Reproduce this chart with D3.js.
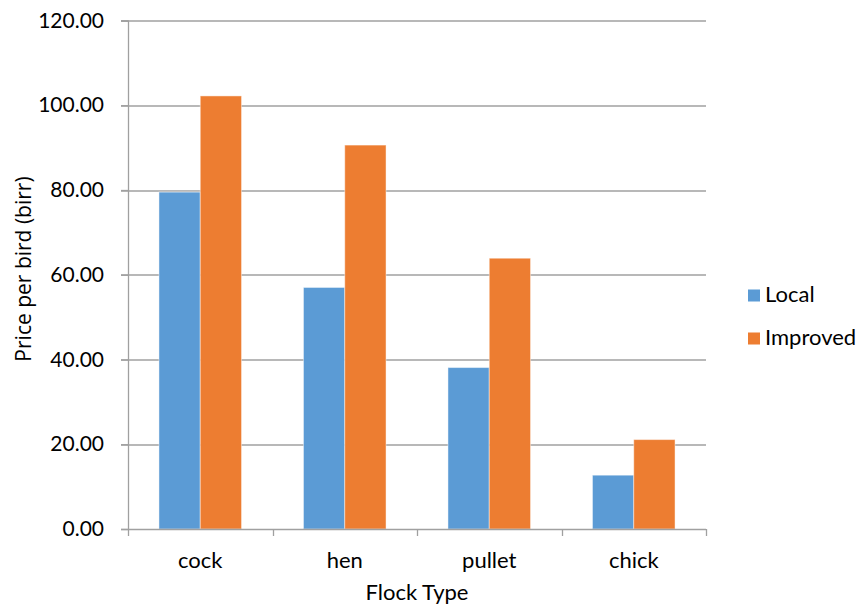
<!DOCTYPE html>
<html>
<head>
<meta charset="utf-8">
<script src="https://cdn.jsdelivr.net/npm/d3@7"></script>
<style>
  html, body { margin: 0; padding: 0; background: #fff; }
  svg text { fill: #000; }
</style>
</head>
<body>
<svg id="chart" width="859" height="612"></svg>
<script>
// Price per bird by flock type
const categories = ["cock", "hen", "pullet", "chick"];
const seriesNames = ["Local", "Improved"];
const localValues = [79.5, 57.0, 38.1, 12.7];
const improvedValues = [102.2, 90.6, 63.9, 21.1];
const yTicks = [0, 20, 40, 60, 80, 100, 120];
const colors = ["#5B9BD5", "#ED7D31"];

const seriesValues = [localValues, improvedValues];
const rows = categories.map((c, i) => ({
  category: c,
  values: seriesNames.map((s, j) => ({ series: s, value: seriesValues[j][i], idx: j }))
}));

const svg = d3.select("#chart");
const margin = { left: 128, right: 153, top: 20.5, bottom: 83 };
const W = 859, H = 612;
const plotW = W - margin.left - margin.right;
const plotH = H - margin.top - margin.bottom;

const g = svg.append("g").attr("transform", `translate(${margin.left},${margin.top})`);

const x0 = d3.scaleBand().domain(categories).range([0, plotW]).paddingInner(0).paddingOuter(0);
// two bars per group with a 150% gap between groups
const barW = x0.bandwidth() / 3.5;
const x1 = d3.scaleBand().domain(seriesNames).range([0, barW * 2]);
const y = d3.scaleLinear().domain([0, 120]).range([plotH, 0]);
const color = d3.scaleOrdinal().domain(seriesNames).range(colors);

const tickFont = "Lato, 'Noto Sans', sans-serif";

// horizontal gridlines
g.append("g")
  .selectAll("line")
  .data(yTicks.filter(t => t > 0))
  .join("line")
  .attr("x1", -7).attr("x2", plotW)
  .attr("y1", d => Math.round(y(d)) + 0.5).attr("y2", d => Math.round(y(d)) + 0.5)
  .attr("stroke", "#a0a0a0").attr("stroke-width", 1.3);

// bars
const groups = g.append("g").selectAll("g")
  .data(rows)
  .join("g")
  .attr("transform", d => `translate(${x0(d.category) + (x0.bandwidth() - barW * 2) / 2},0)`);

groups.selectAll("rect")
  .data(d => d.values)
  .join("rect")
  .attr("x", d => x1(d.series))
  .attr("width", x1.bandwidth())
  .attr("y", d => y(d.value))
  .attr("height", d => plotH - y(d.value))
  .attr("fill", d => color(d.series))
  .attr("stroke", "rgba(255,255,255,0.45)")
  .attr("stroke-width", 1);

// y axis
const yAxis = d3.axisLeft(y)
  .tickValues(yTicks)
  .tickFormat(d3.format(".2f"))
  .tickSize(7)
  .tickPadding(17);
const yg = g.append("g").call(yAxis);
yg.select(".domain").attr("stroke", "#a0a0a0").attr("stroke-width", 1.3);
yg.selectAll(".tick line").attr("stroke", "#a0a0a0").attr("stroke-width", 1.3);
yg.selectAll(".tick text")
  .attr("font-family", tickFont).attr("font-size", 21).attr("fill", "#000");

// x axis with boundary ticks between categories
const xg = g.append("g").attr("transform", `translate(0,${plotH})`);
xg.append("line")
  .attr("x1", 0).attr("x2", plotW).attr("y1", 0.5).attr("y2", 0.5)
  .attr("stroke", "#a0a0a0").attr("stroke-width", 1.3);
const boundaries = categories.map(c => x0(c)).concat([plotW]);
xg.selectAll("line.b")
  .data(boundaries)
  .join("line")
  .attr("class", "b")
  .attr("x1", d => Math.round(d) + 0.5).attr("x2", d => Math.round(d) + 0.5)
  .attr("y1", 0).attr("y2", 7)
  .attr("stroke", "#a0a0a0").attr("stroke-width", 1.3);
xg.selectAll("text.cat")
  .data(categories)
  .join("text")
  .attr("class", "cat")
  .attr("x", d => x0(d) + x0.bandwidth() / 2)
  .attr("y", 38.5)
  .attr("text-anchor", "middle")
  .attr("font-family", tickFont).attr("font-size", 22)
  .text(d => d);

// axis titles
svg.append("text")
  .attr("x", margin.left + plotW / 2)
  .attr("y", 600)
  .attr("text-anchor", "middle")
  .attr("font-family", tickFont).attr("font-size", 22)
  .text("Flock Type");

svg.append("text")
  .attr("transform", `translate(31,269) rotate(-90)`)
  .attr("text-anchor", "middle")
  .attr("font-family", "'Open Sans', 'Noto Sans', sans-serif").attr("font-size", 21)
  .text("Price per bird (birr)");

// legend
const legend = svg.append("g").attr("transform", "translate(748,289.5)");
const items = legend.selectAll("g")
  .data(seriesNames)
  .join("g")
  .attr("transform", (d, i) => `translate(0,${i * 43})`);
items.append("rect")
  .attr("width", 12).attr("height", 12)
  .attr("fill", d => color(d));
items.append("text")
  .attr("x", 17).attr("y", 12)
  .attr("font-family", tickFont).attr("font-size", 22)
  .text(d => d);
</script>
</body>
</html>
